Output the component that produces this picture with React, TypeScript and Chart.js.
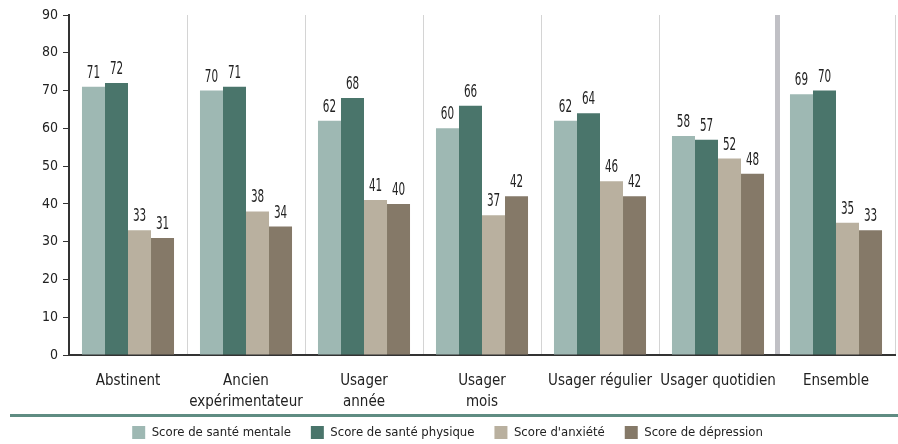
import React, { useEffect, useRef } from "react";
import { Chart, registerables } from "chart.js";

Chart.register(...registerables);

const categories: (string | string[])[] = [
  "Abstinent",
  ["Ancien", "expérimentateur"],
  ["Usager", "année"],
  ["Usager", "mois"],
  "Usager régulier",
  "Usager quotidien",
  "Ensemble",
];
const santeMentale = [71, 70, 62, 60, 62, 58, 69];
const santePhysique = [72, 71, 68, 66, 64, 57, 70];
const anxiete = [33, 38, 41, 37, 46, 52, 35];
const depression = [31, 34, 40, 42, 42, 48, 33];
const yTicks = [0, 10, 20, 30, 40, 50, 60, 70, 80, 90];

const FONT = "'DejaVu Sans Condensed', 'DejaVu Sans', sans-serif";

const valueLabels = {
  id: "valueLabels",
  afterDatasetsDraw(chart: any) {
    const ctx = chart.ctx;
    chart.data.datasets.forEach((ds: any, di: number) => {
      const meta = chart.getDatasetMeta(di);
      meta.data.forEach((el: any, i: number) => {
        ctx.save();
        ctx.translate(el.x, el.y - 9);
        ctx.scale(0.68, 1);
        ctx.font = `17px ${FONT}`;
        ctx.fillStyle = "#222";
        ctx.textAlign = "center";
        ctx.textBaseline = "alphabetic";
        ctx.fillText(String(ds.data[i]), 0, 0);
        ctx.restore();
      });
    });
  },
};

const legendTweak = {
  id: "legendTweak",
  afterInit(chart: any) {
    const lg = chart.legend;
    if (!lg) return;
    const origFit = lg.fit;
    lg.fit = function () {
      origFit.call(this);
      this.height = 30;
    };
    const origDraw = lg.draw;
    lg.draw = function (...args: any[]) {
      const t = this.top;
      this.top = t - 8;
      origDraw.apply(this, args);
      this.top = t;
    };
  },
};

const tealLine = {
  id: "tealLine",
  afterDraw(chart: any) {
    const ctx = chart.ctx;
    const y = chart.legend.top + 1.5;
    ctx.save();
    ctx.strokeStyle = "#5f8c82";
    ctx.lineWidth = 3;
    ctx.beginPath();
    ctx.moveTo(10, y);
    ctx.lineTo(chart.width, y);
    ctx.stroke();
    ctx.restore();
  },
};

export default function App() {
  const ref = useRef<HTMLCanvasElement>(null);
  useEffect(() => {
    if (!ref.current) return;
    const chart = new Chart(ref.current, {
      type: "bar",
      data: {
        labels: categories,
        datasets: [
          { label: "Score de santé mentale", data: santeMentale, backgroundColor: "#9eb8b3" },
          { label: "Score de santé physique", data: santePhysique, backgroundColor: "#4a756b" },
          { label: "Score d'anxiété", data: anxiete, backgroundColor: "#b9b09f" },
          { label: "Score de dépression", data: depression, backgroundColor: "#857968" },
        ],
      },
      options: {
        animation: false,
        responsive: false,
        maintainAspectRatio: false,
        layout: { padding: { left: 0, right: 3, top: 15, bottom: 0 } },
        datasets: { bar: { categoryPercentage: 0.78, barPercentage: 1 } },
        plugins: {
          legend: {
            position: "bottom",
            labels: {
              font: { family: FONT, size: 13 },
              color: "#222",
              boxWidth: 13,
              boxHeight: 13,
              padding: 20,
            },
          },
          tooltip: { enabled: false },
        },
        scales: {
          x: {
            border: { color: "#333", width: 2 },
            afterFit: (s: any) => {
              s.height = 59;
            },
            grid: {
              offset: true,
              drawTicks: false,
              color: (c: any) =>
                c.index === 0 ? "rgba(0,0,0,0)" : c.index === 6 ? "#c0c0c5" : "#d4d4d4",
              lineWidth: (c: any) => (c.index === 6 ? 5 : 1),
            },
            ticks: {
              font: { family: FONT, size: 15, lineHeight: 1.4 },
              color: "#222",
              padding: 16,
              maxRotation: 0,
              minRotation: 0,
              autoSkip: false,
            },
          },
          y: {
            min: 0,
            max: 90,
            border: { color: "#333", width: 2 },
            afterFit: (s: any) => {
              s.width = 69;
            },
            afterBuildTicks: (axis: any) => {
              axis.ticks = yTicks.map((v) => ({ value: v }));
            },
            grid: { drawOnChartArea: false, drawTicks: true, tickLength: 6, color: "#333" },
            ticks: { font: { family: FONT, size: 14 }, color: "#222", padding: 5 },
          },
        },
      },
      plugins: [legendTweak, valueLabels, tealLine],
    });
    return () => chart.destroy();
  }, []);
  return (
    <div style={{ position: "fixed", left: 0, top: 0, width: 898, height: 444, background: "#fff" }}>
      <canvas ref={ref} width={898} height={444} style={{ width: 898, height: 444 }} />
    </div>
  );
}
